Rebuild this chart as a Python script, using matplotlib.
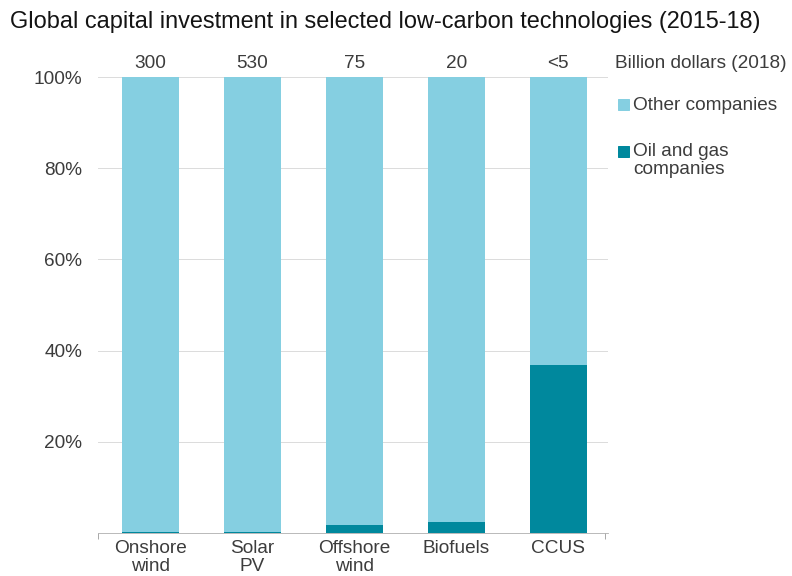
import matplotlib
matplotlib.use("Agg")
import matplotlib.pyplot as plt
import numpy as np

categories = ["Onshore\nwind", "Solar\nPV", "Offshore\nwind", "Biofuels", "CCUS"]
oil_gas_share = [0.3, 0.3, 1.8, 2.5, 36.8]
other_share = [100 - v for v in oil_gas_share]
totals = ["300", "530", "75", "20", "<5"]
yticks = [20, 40, 60, 80, 100]

light = "#85cfe1"
dark = "#00889d"
title_color = "#141414"
text_color = "#3c3c3c"
fs = 19

plt.rcParams["font.family"] = ["Liberation Sans", "DejaVu Sans"]

fig = plt.figure(figsize=(11, 8), dpi=72)
ax = fig.add_axes([0.124, 0.0747, 0.644, 0.7916])

x = np.arange(len(categories))
w = 0.56
ax.bar(x, oil_gas_share, width=w, color=dark, zorder=3)
ax.bar(x, other_share, bottom=oil_gas_share, width=w, color=light, zorder=3)

ax.set_xlim(-0.51, 4.49)
ax.set_ylim(0, 100)
ax.set_yticks(yticks)
ax.set_yticklabels([f"{v}%" for v in yticks], fontsize=fs, color=text_color)
ax.tick_params(axis="y", length=0, pad=16)
ax.yaxis.grid(True, color="#dcdcdc", linewidth=1, zorder=0)

ax.set_xticks(x)
ax.set_xticklabels(categories, fontsize=fs, color=text_color, linespacing=1.1)
ax.tick_params(axis="x", length=0, pad=7)
ax.set_xticks([-0.51, 4.46], minor=True)
ax.tick_params(axis="x", which="minor", length=6, color="#aaaaaa", width=1)

for s in ["top", "right", "left"]:
    ax.spines[s].set_visible(False)
ax.spines["bottom"].set_color("#aaaaaa")

for xi, t in zip(x, totals):
    ax.text(xi, 101, t, ha="center", va="bottom", fontsize=fs, color=text_color)
ax.text(4.56, 101, "Billion dollars (2018)", ha="left", va="bottom", fontsize=fs,
        color=text_color, clip_on=False)

fig.text(0.012, 1 - 22 / 576,
         "Global capital investment in selected low-carbon technologies (2015-18)",
         fontsize=23.5, color=title_color, va="center", ha="left")

# Legend entries
fig.patches.append(plt.Rectangle((618 / 792, 1 - 110 / 576), 11 / 792, 11 / 576,
                                 color=light, transform=fig.transFigure, figure=fig))
fig.text(633 / 792, 1 - 105 / 576, "Other companies", fontsize=fs, color=text_color,
         va="center", ha="left")
fig.patches.append(plt.Rectangle((618 / 792, 1 - 157 / 576), 11 / 792, 11 / 576,
                                 color=dark, transform=fig.transFigure, figure=fig))
fig.text(633 / 792, 1 - 143 / 576, "Oil and gas\ncompanies", fontsize=fs, color=text_color,
         va="top", ha="left", linespacing=1.1)

fig.savefig("out.png", dpi=72, facecolor="white")
